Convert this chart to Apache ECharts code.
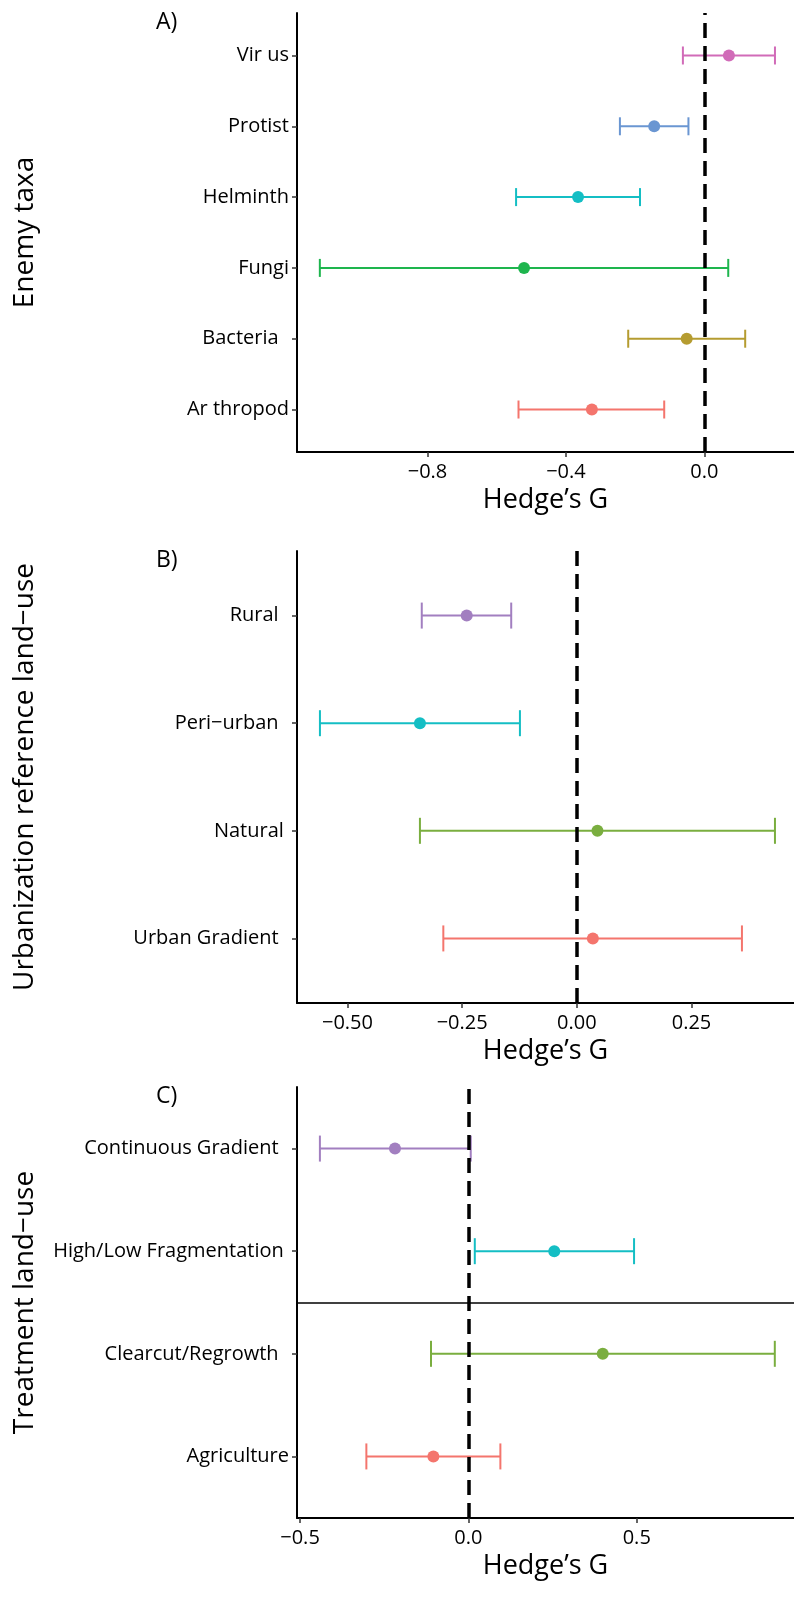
<!DOCTYPE html>
<html>
<head>
<meta charset="utf-8">
<script src="https://cdn.jsdelivr.net/npm/echarts@6/dist/echarts.min.js"></script>
<style>
  html, body { margin: 0; padding: 0; background: #fff; }
  #main { width: 794px; height: 1608px; }
</style>
</head>
<body>
<div id="main"></div>
<script>
// panel A - enemy taxa (bottom to top)
const taxaNames = ["Ar thropod", "Bacteria  ", "Fungi", "Helminth", "Protist", "Vir us"];
const taxaMean = [-0.325, -0.051, -0.521, -0.365, -0.145, 0.071];
const taxaLow = [-0.537, -0.220, -1.111, -0.544, -0.244, -0.062];
const taxaHigh = [-0.116, 0.118, 0.069, -0.186, -0.046, 0.204];
const taxaTicks = [-0.8, -0.4, 0.0];

// panel B - urbanization reference land-use
const refNames = ["Urban Gradient  ", "Natural ", "Peri−urban  ", "Rural  "];
const refMean = [0.035, 0.045, -0.342, -0.240];
const refLow = [-0.291, -0.342, -0.560, -0.338];
const refHigh = [0.360, 0.432, -0.124, -0.143];
const refTicks = [-0.5, -0.25, 0.0, 0.25];

// panel C - treatment land-use
const trtNames = ["Agriculture", "Clearcut/Regrowth  ", "High/Low Fragmentation ", "Continuous Gradient  "];
const trtMean = [-0.104, 0.399, 0.255, -0.218];
const trtLow = [-0.303, -0.111, 0.019, -0.441];
const trtHigh = [0.095, 0.910, 0.492, 0.007];
const trtTicks = [-0.5, 0.0, 0.5];

const taxaColors = ["#F4756D", "#B59C30", "#1EB54E", "#14BEC4", "#6A96D2", "#D16BB8"];
const refColors = ["#F4756D", "#7AAE3F", "#14BEC4", "#A27FC0"];
const trtColors = ["#F4756D", "#7AAE3F", "#14BEC4", "#A27FC0"];

const chart = echarts.init(document.getElementById("main"));

const panels = [
  { names: taxaNames, mean: taxaMean, low: taxaLow, high: taxaHigh, ticks: taxaTicks, colors: taxaColors,
    top: 13, height: 439, min: -1.177, max: 0.259, digits: 1, cap: 9, title: "A)", yname: "Enemy taxa" },
  { names: refNames, mean: refMean, low: refLow, high: refHigh, ticks: refTicks, colors: refColors,
    top: 551, height: 452, min: -0.61, max: 0.4735, digits: 2, cap: 13, title: "B)", yname: "Urbanization reference land−use" },
  { names: trtNames, mean: trtMean, low: trtLow, high: trtHigh, ticks: trtTicks, colors: trtColors,
    top: 1087, height: 431, min: -0.509, max: 0.967, digits: 1, cap: 13, title: "C)", yname: "Treatment land−use" }
];

const grid = [], xAxis = [], yAxis = [], series = [], title = [];

panels.forEach((p, i) => {
  const idx = p.names.map((n, k) => k);
  grid.push({ left: 297, width: 497, top: p.top, height: p.height });
  title.push({ text: p.title, left: 156, top: p.top - 2, padding: 0,
    textStyle: { fontSize: 23, fontWeight: "normal", color: "#000", fontFamily: "Open Sans" } });
  xAxis.push({
    type: "value", gridIndex: i, min: p.min, max: p.max,
    name: "Hedge’s G", nameLocation: "middle", nameGap: 35,
    nameTextStyle: { fontSize: 27, color: "#000" },
    axisLine: { show: true, onZero: false, lineStyle: { color: "#000", width: 2 } },
    axisTick: { show: true, customValues: p.ticks, length: 5, lineStyle: { color: "#333", width: 1.5 } },
    axisLabel: { customValues: p.ticks, fontSize: 20, color: "#000", margin: 10,
      formatter: v => v.toFixed(p.digits).replace("-", "−") },
    splitLine: { show: false }
  });
  yAxis.push({
    type: "value", gridIndex: i, min: -0.6, max: p.names.length - 0.4,
    name: p.yname, nameLocation: "middle", nameGap: 258,
    nameTextStyle: { fontSize: 28, color: "#000" },
    axisLine: { show: true, onZero: false, lineStyle: { color: "#000", width: 2 } },
    axisTick: { show: true, customValues: idx, length: 5, lineStyle: { color: "#333", width: 1.5 } },
    axisLabel: { customValues: idx, fontSize: 20, color: "#000", margin: 8,
      formatter: v => p.names[Math.round(v)] },
    splitLine: { show: false }
  });

  // error bars
  series.push({
    type: "custom", xAxisIndex: i, yAxisIndex: i, silent: true, z: 2,
    data: idx.map(k => [p.low[k], p.high[k], k]),
    encode: { x: [0, 1], y: 2 },
    renderItem: (params, api) => {
      const a = api.coord([api.value(0), api.value(2)]);
      const b = api.coord([api.value(1), api.value(2)]);
      const h = p.cap;
      const style = { stroke: p.colors[params.dataIndex], lineWidth: 2, fill: null };
      return {
        type: "group",
        children: [
          { type: "line", shape: { x1: a[0], y1: a[1], x2: b[0], y2: b[1] }, style },
          { type: "line", shape: { x1: a[0], y1: a[1] - h, x2: a[0], y2: a[1] + h }, style },
          { type: "line", shape: { x1: b[0], y1: b[1] - h, x2: b[0], y2: b[1] + h }, style }
        ]
      };
    }
  });

  const lines = [{ xAxis: 0, lineStyle: { color: "#000", width: 3.5, type: [15, 8] } }];
  if (i === 2) lines.push({ yAxis: 1.5, lineStyle: { color: "#000", width: 1.5, type: "solid" } });

  series.push({
    type: "scatter", xAxisIndex: i, yAxisIndex: i, z: 3,
    symbolSize: 12,
    data: idx.map(k => [p.mean[k], k]),
    itemStyle: { color: params => p.colors[params.dataIndex], opacity: 1 },
    markLine: { silent: true, symbol: "none", label: { show: false }, z: 5, animation: false, data: lines }
  });
});

chart.setOption({
  animation: false,
  textStyle: { fontFamily: "Open Sans" },
  title, grid, xAxis, yAxis, series
});
</script>
</body>
</html>
